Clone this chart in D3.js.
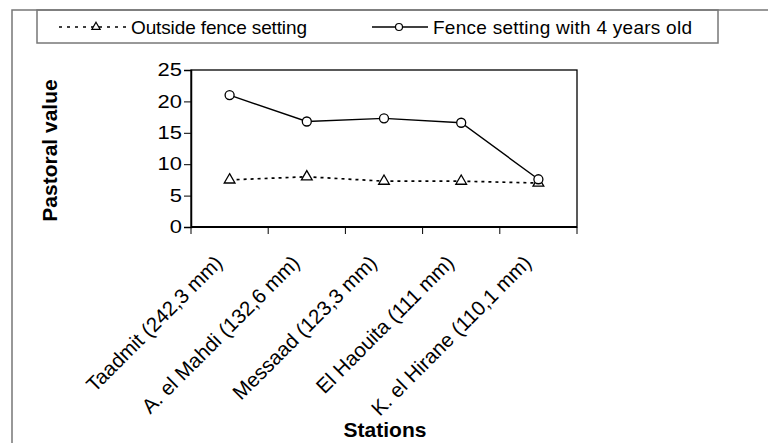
<!DOCTYPE html>
<html>
<head>
<meta charset="utf-8">
<script src="https://cdn.jsdelivr.net/npm/d3@7"></script>
<style>
  body { margin: 0; background: #fff; }
  svg { display: block; font-family: "Liberation Sans", Arial, sans-serif; }
</style>
</head>
<body>
<div class="chart"></div>
<script>
// data
const stations = [
   "Taadmit (242,3 mm)",
   "A. el Mahdi (132,6 mm)",
   "Messaad (123,3 mm)",
   "El Haouita (111 mm)",
   "K. el Hirane (110,1 mm)"
];
const outsideFence = [7.5, 8.0, 7.3, 7.3, 7.0];
const fenceFourYears = [21.0, 16.8, 17.3, 16.6, 7.6];
const yTicks = [0, 5, 10, 15, 20, 25];
const seriesNames = ["Outside fence setting", "Fence setting with 4 years old"];

// setup chart
const width = 768;
const height = 443;
const plot = { left: 191, right: 577, top: 70, bottom: 227 };

const svg = d3
   .select(".chart")
   .append("svg")
   .attr("width", width)
   .attr("height", height);

// outer frame (top + left edge only visible)
svg.append("path")
   .attr("d", `M12,${height} L12,10 L${width},10`)
   .attr("fill", "none")
   .attr("stroke", "#777")
   .attr("stroke-width", 1.5);

// scales
const xScale = d3
   .scaleBand()
   .domain(stations)
   .range([plot.left, plot.right]);
const yScale = d3
   .scaleLinear()
   .domain([0, 25])
   .range([plot.bottom, plot.top]);
const cx = (d) => xScale(d) + xScale.bandwidth() / 2;

// plot frame
svg.append("rect")
   .attr("x", plot.left)
   .attr("y", plot.top)
   .attr("width", plot.right - plot.left)
   .attr("height", plot.bottom - plot.top)
   .attr("fill", "none")
   .attr("stroke", "#000")
   .attr("stroke-width", 1.3);

// y axis (labels stretched sideways like the original)
const stretch = 1.22;
const yAxis = d3.axisLeft(yScale).tickValues(yTicks).tickSize(7).tickPadding(3);
const yG = svg.append("g")
   .attr("transform", `translate(${plot.left}, 0)`)
   .call(yAxis);
yG.select(".domain").attr("stroke-width", 1.5);
yG.selectAll("text")
   .attr("font-size", 18)
   .attr("font-family", "Liberation Sans, Arial, sans-serif")
   .attr("fill", "#000")
   .attr("x", -9 / stretch)
   .attr("transform", `scale(${stretch}, 1)`);

// x axis: ticks on band edges
const xG = svg.append("g")
   .attr("transform", `translate(0, ${plot.bottom})`);
xG.append("line")
   .attr("x1", plot.left)
   .attr("x2", plot.right)
   .attr("stroke", "#000")
   .attr("stroke-width", 2);
xG.selectAll(".edge")
   .data(stations.concat([null]))
   .enter()
   .append("line")
   .attr("class", "edge")
   .attr("x1", (d) => (d === null ? plot.right : xScale(d)))
   .attr("x2", (d) => (d === null ? plot.right : xScale(d)))
   .attr("y1", 0)
   .attr("y2", 7)
   .attr("stroke", "#000");
xG.selectAll(".label")
   .data(stations)
   .enter()
   .append("text")
   .attr("class", "label")
   .attr("transform", (d) => `translate(${cx(d) - 11}, 32) rotate(-45)`)
   .attr("text-anchor", "end")
   .attr("dy", "0.35em")
   .attr("font-size", 20.5)
   .text((d) => d);

// axis titles
svg.append("text")
   .attr("transform", `translate(57, ${(plot.top + plot.bottom) / 2 + 2}) rotate(-90)`)
   .attr("text-anchor", "middle")
   .attr("font-size", 21)
   .attr("font-weight", "bold")
   .text("Pastoral value");
svg.append("text")
   .attr("x", 385)
   .attr("y", 437)
   .attr("text-anchor", "middle")
   .attr("font-size", 21)
   .attr("font-weight", "bold")
   .text("Stations");

// lines
const line = d3
   .line()
   .x((d, i) => cx(stations[i]))
   .y((d) => yScale(d));

svg.append("path")
   .datum(outsideFence)
   .attr("d", line)
   .attr("fill", "none")
   .attr("stroke", "#000")
   .attr("stroke-width", 1.7)
   .attr("stroke-dasharray", "3,4");
svg.append("path")
   .datum(fenceFourYears)
   .attr("d", line)
   .attr("fill", "none")
   .attr("stroke", "#000")
   .attr("stroke-width", 1.4);

// markers
const triangle = d3.symbol().type(d3.symbolTriangle).size(50);
svg.selectAll(".tri")
   .data(outsideFence)
   .enter()
   .append("path")
   .attr("class", "tri")
   .attr("d", triangle)
   .attr("transform", (d, i) => `translate(${cx(stations[i])}, ${yScale(d)})`)
   .attr("fill", "#fff")
   .attr("stroke", "#000")
   .attr("stroke-width", 1.3);
svg.selectAll(".dot")
   .data(fenceFourYears)
   .enter()
   .append("circle")
   .attr("class", "dot")
   .attr("cx", (d, i) => cx(stations[i]))
   .attr("cy", (d) => yScale(d))
   .attr("r", 4.5)
   .attr("fill", "#fff")
   .attr("stroke", "#000")
   .attr("stroke-width", 1.3);

// legend
const legend = svg.append("g");
legend.append("rect")
   .attr("x", 37)
   .attr("y", 10)
   .attr("width", 718 - 37)
   .attr("height", 33)
   .attr("fill", "none")
   .attr("stroke", "#777")
   .attr("stroke-width", 1.5);
const legendY = 27;
legend.append("line")
   .attr("x1", 59).attr("x2", 127)
   .attr("y1", legendY).attr("y2", legendY)
   .attr("stroke", "#000")
   .attr("stroke-width", 1.5)
   .attr("stroke-dasharray", "3,5");
legend.append("path")
   .attr("d", d3.symbol().type(d3.symbolTriangle).size(30))
   .attr("transform", `translate(96, ${legendY})`)
   .attr("fill", "#fff")
   .attr("stroke", "#000")
   .attr("stroke-width", 1.2);
legend.append("text")
   .attr("x", 131)
   .attr("y", legendY)
   .attr("dy", "0.35em")
   .attr("font-size", 19)
   .attr("textLength", 176)
   .text(seriesNames[0]);
legend.append("line")
   .attr("x1", 372).attr("x2", 428)
   .attr("y1", legendY).attr("y2", legendY)
   .attr("stroke", "#000")
   .attr("stroke-width", 1.3);
legend.append("circle")
   .attr("cx", 399)
   .attr("cy", legendY)
   .attr("r", 3.5)
   .attr("fill", "#fff")
   .attr("stroke", "#000")
   .attr("stroke-width", 1.2);
legend.append("text")
   .attr("x", 433)
   .attr("y", legendY)
   .attr("dy", "0.35em")
   .attr("font-size", 19)
   .attr("textLength", 259)
   .text(seriesNames[1]);
</script>
</body>
</html>
